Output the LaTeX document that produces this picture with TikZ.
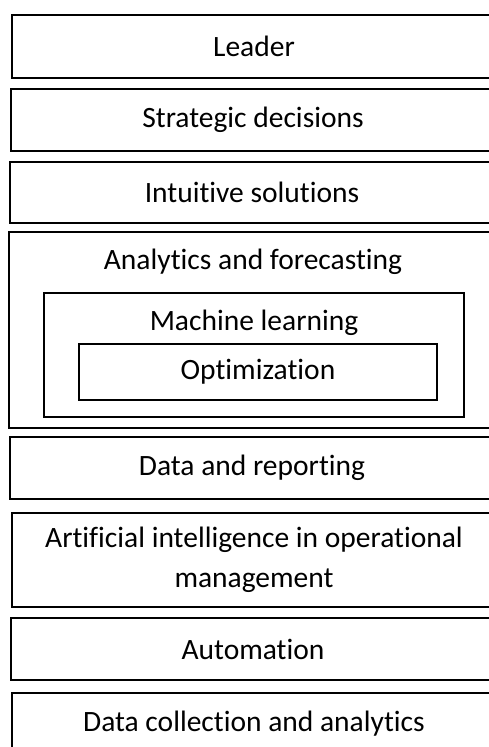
\documentclass[tikz,border=0pt]{standalone}
\usepackage{fontspec}
\setmainfont{Carlito}[Ligatures={NoCommon}]

\begin{document}
\begin{tikzpicture}[x=1pt,y=-1pt,
    every node/.style={font=\fontsize{29.5}{40}\selectfont},
    box/.style={draw,line width=2pt,inner sep=0pt,align=center,minimum width=484pt},
    tag/.style={inner sep=0pt,anchor=center}]
  \clip (0,0) rectangle (489,747);
  % layers, top down
  \node[box,minimum height=63pt] (leader)    at (254,46.5)  {Leader};
  \node[box,minimum height=62pt] (strategic) at (253,120)   {Strategic decisions};
  \node[box,minimum height=61pt] (intuitive) at (252,192.5) {Intuitive solutions};
  \node[box,minimum height=196pt] (analytics) at (251,330)  {};
  \node[tag] (analyticstext) at (253,262) {Analytics and forecasting};
  \node[box,minimum width=420pt,minimum height=124pt] (ml) at (254,355) {};
  \node[tag] (mltext) at (254,323) {Machine learning};
  \node[box,minimum width=358pt,minimum height=56pt] (opt) at (258,372) {Optimization};
  \node[box,minimum height=62pt] (reporting) at (252,468)   {Data and reporting};
  \node[box,minimum height=94pt] (ai)        at (254,560)   {Artificial intelligence in operational\\management};
  \node[box,minimum height=62pt] (automation) at (253,649)  {Automation};
  \node[box,minimum height=62pt] (collection) at (254,724)  {Data collection and analytics};
\end{tikzpicture}
\end{document}
